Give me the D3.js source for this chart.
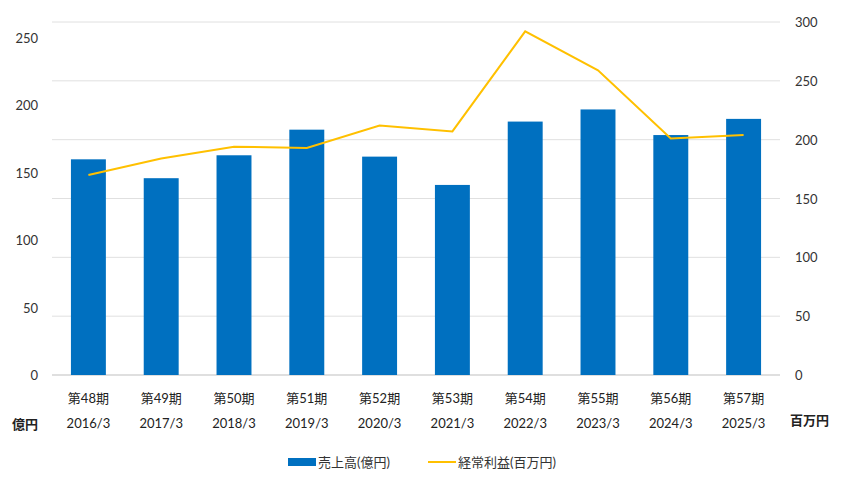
<!DOCTYPE html>
<html><head><meta charset="utf-8">
<script src="https://cdn.jsdelivr.net/npm/d3@7"></script>
<style>body{margin:0;background:#fff;font-family:Lato,"Noto Sans CJK JP",sans-serif;}</style>
</head><body><svg id="c" width="847" height="477"></svg>
<script>
const periods=["第48期","第49期","第50期","第51期","第52期","第53期","第54期","第55期","第56期","第57期"];
const years=["2016/3","2017/3","2018/3","2019/3","2020/3","2021/3","2022/3","2023/3","2024/3","2025/3"];
const sales=[160,146,163,182,162,141,188,197,178,190];
const profit=[170,184,194,193,212,207,292,259,201,204];
const leftTicks=[0,50,100,150,200,250];
const rightTicks=[0,50,100,150,200,250,300];
const svg=d3.select("#c");
const L=52,R=780,T=22,B=375;
const x=d3.scaleBand().domain(d3.range(10)).range([L,R]).paddingInner(0.52).paddingOuter(0.26);
const yL=d3.scaleLinear().domain([0,250]).range([B,38]);
const yR=d3.scaleLinear().domain([0,300]).range([B,T]);
const ff="Lato,'Noto Sans CJK JP',sans-serif";
svg.append("g").selectAll("line").data(rightTicks).join("line")
 .attr("x1",L).attr("x2",R).attr("y1",d=>yR(d)).attr("y2",d=>yR(d))
 .attr("stroke",d=>d==0?"#bfbfbf":"#e0e0e0");
svg.append("g").selectAll("text").data(leftTicks).join("text")
 .attr("x",38).attr("y",d=>yL(d)+5).attr("text-anchor","end").attr("font-size",13).attr("fill","#333").attr("font-family",ff).text(d=>d);
svg.append("g").selectAll("text").data(rightTicks).join("text")
 .attr("x",795).attr("y",d=>yR(d)+5).attr("font-size",13).attr("fill","#333").attr("font-family",ff).text(d=>d);
svg.append("g").selectAll("rect").data(sales).join("rect")
 .attr("x",(d,i)=>x(i)).attr("width",x.bandwidth()).attr("y",d=>yL(d)).attr("height",d=>B-yL(d)).attr("fill","#0070c0");
svg.append("path").datum(profit).attr("fill","none").attr("stroke","#ffc000").attr("stroke-width",2)
 .attr("d",d3.line().x((d,i)=>x(i)+x.bandwidth()/2).y(d=>yR(d)));
const g=svg.append("g");
periods.forEach((p,i)=>{
 const cx=x(i)+x.bandwidth()/2;
 g.append("text").attr("x",cx).attr("y",403).attr("text-anchor","middle").attr("font-size",13).attr("fill","#222").attr("font-family",ff).text(p);
 g.append("text").attr("x",cx).attr("y",428).attr("text-anchor","middle").attr("font-size",13).attr("fill","#222").attr("font-family",ff).text(years[i]);
});
svg.append("text").attr("x",12).attr("y",429).attr("font-size",13).attr("font-weight","bold").attr("font-family",ff).attr("fill","#222").text("億円");
svg.append("text").attr("x",790).attr("y",425).attr("font-size",13).attr("font-weight","bold").attr("font-family",ff).attr("fill","#222").text("百万円");
svg.append("rect").attr("x",288).attr("y",458).attr("width",28).attr("height",8).attr("fill","#0070c0");
svg.append("text").attr("x",318).attr("y",467).attr("font-size",13).attr("font-family",ff).attr("fill","#333").text("売上高(億円)");
svg.append("line").attr("x1",428).attr("x2",456).attr("y1",462).attr("y2",462).attr("stroke","#ffc000").attr("stroke-width",2);
svg.append("text").attr("x",458).attr("y",467).attr("font-size",13).attr("font-family",ff).attr("fill","#333").text("経常利益(百万円)");
</script></body></html>
